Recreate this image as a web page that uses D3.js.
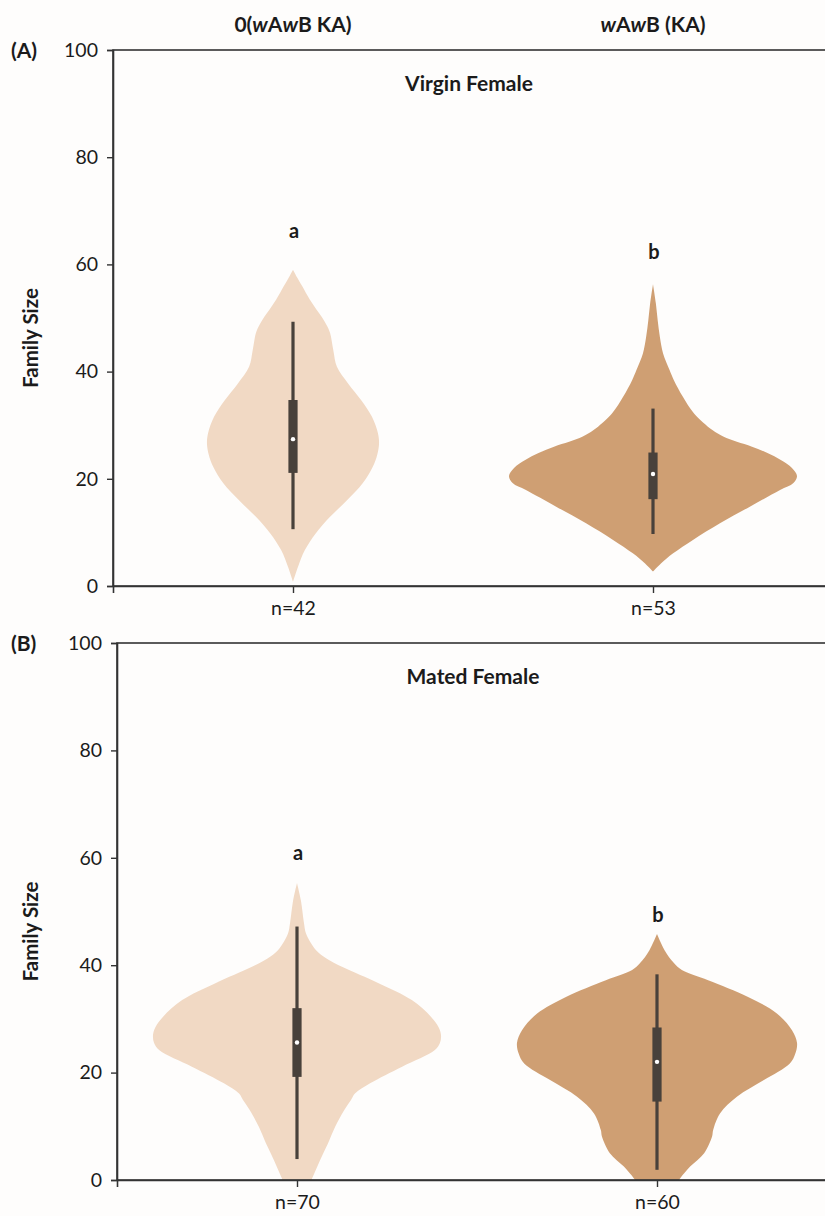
<!DOCTYPE html>
<html>
<head>
<meta charset="utf-8">
<script src="https://cdn.jsdelivr.net/npm/d3@7"></script>
<style>
  body { margin: 0; background: #fefdfc; }
  svg text { font-family: Lato, "Open Sans", "Liberation Sans", sans-serif; fill: #1b1b1b; }
</style>
</head>
<body>
<svg id="chart" width="825" height="1216"></svg>
<script>
// ---- data ----
const categories = ["0(wAwB KA)", "wAwB (KA)"];
const panelLabels = ["(A)", "(B)"];
const panelTitles = ["Virgin Female", "Mated Female"];
const yTicks = [0, 20, 40, 60, 80, 100];

// sample sizes per panel, per category
const sampleSizesA = [42, 53];
const sampleSizesB = [70, 60];

// significance letters and the family-size level they sit at
const lettersA = ["a", "b"];
const letterLevelsA = [66.2, 62.3];
const lettersB = ["a", "b"];
const letterLevelsB = [60.9, 49.3];

// violin outlines: [family size, half-width in category units]
const violinA0 = [[59.0,0],[57.5,0.012],[56.0,0.025],[53.4,0.047],[51.5,0.066],[50.2,0.080],[48.6,0.094],[47.2,0.103],[44.0,0.112],[40.9,0.122],[37.8,0.153],[34.7,0.189],[31.6,0.219],[28.5,0.236],[26.6,0.239],[24.5,0.234],[22.3,0.222],[19.2,0.194],[16.0,0.150],[12.9,0.103],[9.8,0.063],[6.7,0.033],[3.6,0.014],[0.8,0]];
const violinA1 = [[56.3,0],[52.7,0.008],[49.6,0.013],[46.5,0.019],[43.4,0.028],[40.3,0.046],[38.4,0.058],[35.3,0.083],[32.2,0.114],[29.1,0.165],[27.9,0.195],[26.9,0.233],[26.0,0.275],[24.8,0.318],[23.5,0.355],[22.0,0.386],[20.5,0.400],[19.2,0.390],[17.9,0.353],[14.8,0.269],[11.7,0.186],[8.6,0.111],[6.1,0.056],[4.2,0.022],[2.7,0]];
const violinB0 = [[55.3,0],[52.0,0.011],[48.0,0.019],[45.9,0.025],[44.1,0.039],[42.8,0.053],[41.2,0.083],[39.7,0.125],[36.6,0.228],[33.5,0.319],[30.4,0.372],[28.5,0.393],[27.0,0.400],[25.5,0.397],[24.2,0.383],[21.1,0.292],[18.0,0.203],[16.1,0.161],[14.9,0.150],[13.0,0.131],[9.9,0.106],[6.8,0.086],[3.7,0.064],[0.6,0.044],[-2.5,0.022],[-4.0,0]];
const violinB1 = [[45.8,0],[42.8,0.021],[40.4,0.047],[39.1,0.069],[37.2,0.142],[34.1,0.253],[31.0,0.333],[27.9,0.375],[25.5,0.389],[23.5,0.384],[21.7,0.369],[18.6,0.297],[15.5,0.222],[12.4,0.175],[9.3,0.156],[8.1,0.153],[5.0,0.131],[2.5,0.092],[0.3,0.064],[-2.0,0.039],[-4.0,0.014],[-5.0,0]];

// inner box summaries: [lower whisker, Q1, median, Q3, upper whisker]
const boxA0 = [10.6, 21.1, 27.4, 34.7, 49.3];
const boxA1 = [9.7, 16.2, 20.9, 24.9, 33.1];
const boxB0 = [3.9, 19.2, 25.6, 32.0, 47.2];
const boxB1 = [1.9, 14.6, 22.0, 28.4, 38.3];

const violinColors = ["#f1d9c4", "#cf9f73"];

// ---- layout ----
const panels = [
  { label: panelLabels[0], title: panelTitles[0], n: sampleSizesA, letters: lettersA, letterLevels: letterLevelsA,
    violins: [violinA0, violinA1], boxes: [boxA0, boxA1], left: 113, top: 50, bottom: 586, showHeaders: true },
  { label: panelLabels[1], title: panelTitles[1], n: sampleSizesB, letters: lettersB, letterLevels: letterLevelsB,
    violins: [violinB0, violinB1], boxes: [boxB0, boxB1], left: 117, top: 643, bottom: 1180, showHeaders: false }
];
const plotWidth = 720;
const axisColor = "#333";

const svg = d3.select("#chart");

// renders a category name with each "w" set in italics
function addCategoryText(sel, name) {
  name.split(/(w)/).filter(s => s.length).forEach(part => {
    const t = sel.append("tspan").text(part);
    if (part === "w") t.attr("font-style", "italic").style("font-style", "italic");
  });
}

panels.forEach((p, pi) => {
  const x = d3.scaleLinear().domain([-0.5, 1.5]).range([p.left, p.left + plotWidth]);
  const y = d3.scaleLinear().domain([0, 100]).range([p.bottom, p.top]);
  const g = svg.append("g");

  const clipId = "clip" + pi;
  svg.append("clipPath").attr("id", clipId)
    .append("rect").attr("x", p.left).attr("y", p.top)
    .attr("width", plotWidth).attr("height", p.bottom - p.top);

  // violins
  const plot = g.append("g").attr("clip-path", `url(#${clipId})`);
  p.violins.forEach((prof, i) => {
    const area = d3.area()
      .y(d => y(d[0]))
      .x0(d => x(i - d[1]))
      .x1(d => x(i + d[1]))
      .curve(d3.curveCatmullRom.alpha(0.5));
    plot.append("path").attr("d", area(prof)).attr("fill", violinColors[i]);
  });

  // inner boxes
  p.boxes.forEach((b, i) => {
    const cx = x(i);
    plot.append("line")
      .attr("x1", cx).attr("x2", cx).attr("y1", y(b[0])).attr("y2", y(b[4]))
      .attr("stroke", "#48413b").attr("stroke-width", 3.2);
    plot.append("rect")
      .attr("x", cx - 4.6).attr("width", 9.2)
      .attr("y", y(b[3])).attr("height", y(b[1]) - y(b[3]))
      .attr("fill", "#48413b");
    plot.append("circle").attr("cx", cx).attr("cy", y(b[2])).attr("r", 2.2).attr("fill", "#fff");
  });

  // frame (top and right spines)
  g.append("rect")
    .attr("x", p.left).attr("y", p.top).attr("width", plotWidth).attr("height", p.bottom - p.top)
    .attr("fill", "none").attr("stroke", axisColor).attr("stroke-width", 1.6);

  // y axis
  const yAxis = g.append("g").attr("transform", `translate(${p.left},0)`)
    .call(d3.axisLeft(y).tickValues(yTicks).tickSize(6).tickPadding(9));
  // x axis with sample sizes
  const xAxis = g.append("g").attr("transform", `translate(0,${p.bottom})`)
    .call(d3.axisBottom(x).tickValues([0, 1]).tickSize(7).tickPadding(8).tickFormat((d, i) => "n=" + p.n[i]));
  [yAxis, xAxis].forEach(a => {
    a.select(".domain").attr("stroke", axisColor).attr("stroke-width", 1.6);
    a.selectAll(".tick line").attr("stroke", axisColor).attr("stroke-width", 1.4);
    a.selectAll(".tick text").attr("font-size", 19.5).attr("fill", "#1b1b1b")
      .style("font-family", "Lato, 'Open Sans', sans-serif");
  });

  // panel label
  g.append("text").attr("x", 11).attr("y", p.top + 8)
    .attr("font-size", 21).attr("font-weight", 700).text(p.label);

  // panel title
  g.append("text").attr("x", x(0.5) - 4).attr("y", p.top + 41)
    .attr("text-anchor", "middle").attr("font-size", 21).attr("font-weight", 700).text(p.title);

  // axis title
  const midY = (p.top + p.bottom) / 2 + 20;
  g.append("text").attr("transform", `translate(38,${midY}) rotate(-90)`)
    .attr("text-anchor", "middle").attr("font-size", 20.5).attr("font-weight", 700).text("Family Size");

  // significance letters
  p.letters.forEach((l, i) => {
    g.append("text").attr("x", x(i) + 1).attr("y", y(p.letterLevels[i]) + 7)
      .attr("text-anchor", "middle").attr("font-size", 20).attr("font-weight", 700).text(l);
  });

  // category headers
  if (p.showHeaders) {
    categories.forEach((c, i) => {
      const t = g.append("text").attr("x", x(i)).attr("y", 32)
        .attr("text-anchor", "middle").attr("font-size", 21).attr("font-weight", 700);
      addCategoryText(t, c);
    });
  }
});
</script>
</body>
</html>
